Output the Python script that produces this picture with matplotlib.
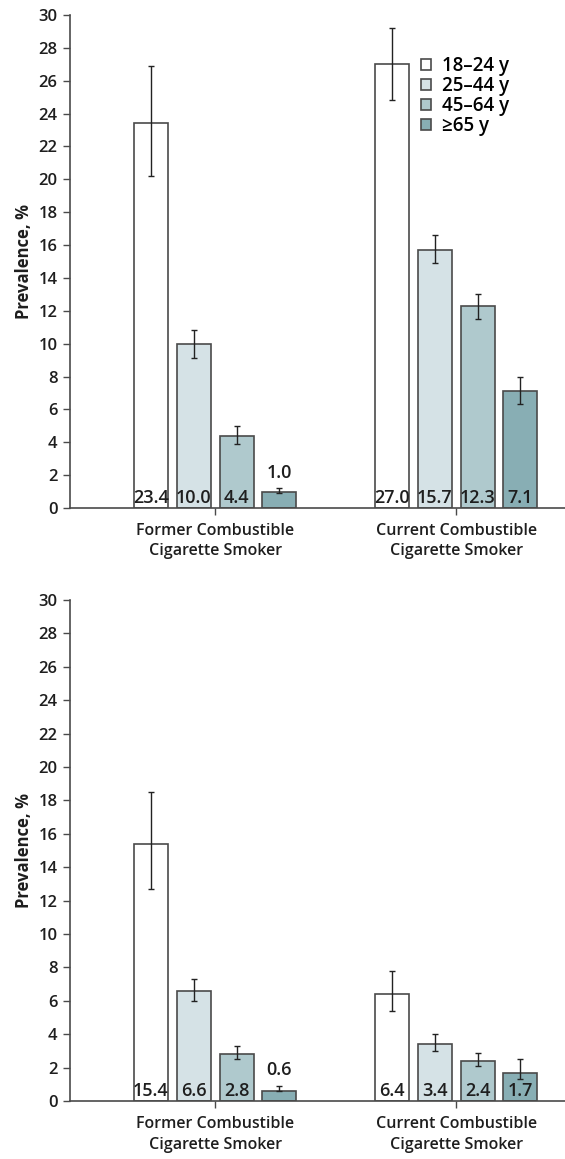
import matplotlib

matplotlib.use("Agg")
import matplotlib.pyplot as plt
import numpy as np

plt.rcParams["font.family"] = ["Open Sans", "DejaVu Sans"]

groups = ["Former Combustible\nCigarette Smoker", "Current Combustible\nCigarette Smoker"]
ages = ["18\u201324 y", "25\u201344 y", "45\u201364 y", "\u226565 y"]
colors = ["#ffffff", "#d5e2e6", "#afc9cd", "#88aeb4"]

# top panel: values and 95% CI per age group, [former, current]
top_vals = [[23.4, 27.0], [10.0, 15.7], [4.4, 12.3], [1.0, 7.1]]
top_lo = [[20.2, 24.8], [9.1, 14.9], [3.9, 11.5], [0.9, 6.3]]
top_hi = [[26.9, 29.2], [10.8, 16.6], [5.0, 13.0], [1.2, 8.0]]

# bottom panel
bot_vals = [[15.4, 6.4], [6.6, 3.4], [2.8, 2.4], [0.6, 1.7]]
bot_lo = [[12.7, 5.4], [6.0, 3.0], [2.5, 2.1], [0.6, 1.3]]
bot_hi = [[18.5, 7.8], [7.3, 4.0], [3.3, 2.9], [0.9, 2.5]]

yticks = np.arange(0, 31, 2)
edge = "#4a4a4a"
ink = "#1e1e1e"


def draw_panel(ax, vals, lo, hi, legend=False):
    x = np.arange(len(groups))
    width = 0.141
    step = 0.178
    for i, age in enumerate(ages):
        pos = x + (i - 1.5) * step
        v = np.array(vals[i])
        err = [v - np.array(lo[i]), np.array(hi[i]) - v]
        ax.bar(pos, v, width, color=colors[i], edgecolor=edge, linewidth=1.2,
               label=age, zorder=2)
        ax.errorbar(pos, v, yerr=err, fmt="none", ecolor="#222222",
                    elinewidth=1.0, capsize=2.5, capthick=1.0, zorder=3)
        for p, val, h in zip(pos, v, hi[i]):
            if val < 1.5:
                ax.text(p, h + 0.4, f"{val:.1f}", ha="center", va="bottom",
                        fontsize=13, fontweight="semibold", color=ink)
            else:
                ax.text(p, 0.05, f"{val:.1f}", ha="center", va="bottom",
                        fontsize=13, fontweight="semibold", color=ink, zorder=4)

    ax.set_xlim(-0.602, 1.452)
    ax.set_ylim(0, 30)
    ax.set_yticks(yticks)
    ax.set_xticks(x)
    ax.set_xticklabels(groups, fontsize=11.5, fontweight="semibold", color=ink,
                       linespacing=1.35)
    ax.tick_params(axis="y", labelsize=12, length=5, width=1.0, color=edge,
                   labelcolor=ink, pad=4)
    ax.tick_params(axis="x", length=5, width=1.0, color=edge, pad=6)
    for lab in ax.get_yticklabels():
        lab.set_fontweight("semibold")
    ax.set_ylabel("Prevalence, %", fontsize=12, fontweight="bold", color=ink,
                  labelpad=4)
    for side in ["top", "right"]:
        ax.spines[side].set_visible(False)
    for side in ["left", "bottom"]:
        ax.spines[side].set_color(edge)
        ax.spines[side].set_linewidth(1.2)

    if legend:
        ax.legend(loc="upper left", bbox_to_anchor=(0.675, 0.95), frameon=False,
                  handlelength=0.55, handleheight=0.55, handletextpad=0.55,
                  labelspacing=0.0, prop={"size": 13.5, "weight": "semibold"})


fig = plt.figure(figsize=(5.65, 11.59), dpi=100)
ax1 = fig.add_axes([0.124, 0.5617, 0.876, 0.4254])
ax2 = fig.add_axes([0.124, 0.0500, 0.876, 0.4323])

draw_panel(ax1, top_vals, top_lo, top_hi, legend=True)
draw_panel(ax2, bot_vals, bot_lo, bot_hi)

fig.savefig("out.png", dpi=100)
